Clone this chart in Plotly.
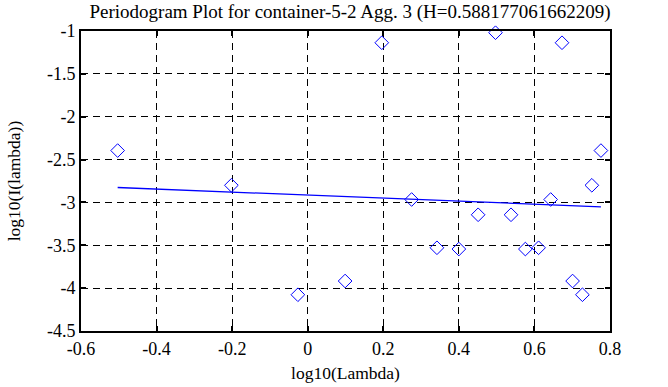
import plotly.graph_objects as go

# log10 of frequencies
log_lambda = [-0.503, -0.202, -0.026, 0.099, 0.196, 0.275, 0.342, 0.400, 0.451, 0.497,
              0.538, 0.576, 0.611, 0.643, 0.673, 0.701, 0.727, 0.752, 0.776]
# log10 of periodogram values
log_I = [-2.395, -2.800, -4.077, -3.917, -1.137, -2.966, -3.529, -3.544, -3.144, -1.020,
         -3.144, -3.544, -3.529, -2.966, -1.137, -3.917, -4.077, -2.800, -2.395]
# fitted regression line endpoints
fit_x = [-0.503, 0.776]
fit_y = [-2.826, -3.051]

title_text = "Periodogram Plot for container-5-2 Agg. 3 (H=0.588177061662209)"
x_ticks = [-0.6, -0.4, -0.2, 0, 0.2, 0.4, 0.6, 0.8]
y_ticks = [-4.5, -4, -3.5, -3, -2.5, -2, -1.5, -1]

fig = go.Figure()
fig.add_trace(go.Scatter(
    x=log_lambda, y=log_I, mode="markers",
    marker=dict(symbol="diamond-open", size=10.5, color="#0000ff", line=dict(width=1, color="#0000ff")),
    showlegend=False, cliponaxis=False,
))
fig.add_trace(go.Scatter(
    x=fit_x, y=fit_y, mode="lines",
    line=dict(color="#0000ff", width=1.3), showlegend=False,
))

font_family = "Liberation Serif"
axis_common = dict(
    showline=True, linecolor="black", linewidth=2, mirror="ticks",
    ticks="inside", ticklen=5, tickwidth=1.5, tickcolor="black",
    showgrid=True, gridcolor="black", gridwidth=1, griddash="7px,5px",
    zeroline=False, automargin=False,
    tickfont=dict(family=font_family, size=18, color="black"),
)

fig.update_layout(
    width=668, height=387,
    margin=dict(l=81, r=58, t=31, b=56),
    paper_bgcolor="white", plot_bgcolor="white",
    font=dict(family=font_family, color="black"),
    title=dict(text=title_text, x=0.524, xanchor="center", y=0.989, yanchor="top",
               font=dict(family=font_family, size=19, color="black")),
    xaxis=dict(range=[-0.6, 0.8], tickvals=x_ticks,
               ticktext=[("%g" % v) for v in x_ticks],
               title=dict(text="log10(Lambda)", font=dict(family=font_family, size=17.5, color="black"), standoff=9),
               **axis_common),
    yaxis=dict(range=[-4.5, -1], tickvals=y_ticks,
               ticktext=[("%g" % v) for v in y_ticks],
               title=dict(text="log10(I(lambda))", font=dict(family=font_family, size=17.5, color="black"), standoff=22),
               **axis_common),
)

fig.write_html("out.html", config={"displayModeBar": False},
               post_script="document.body.style.margin='0';")
